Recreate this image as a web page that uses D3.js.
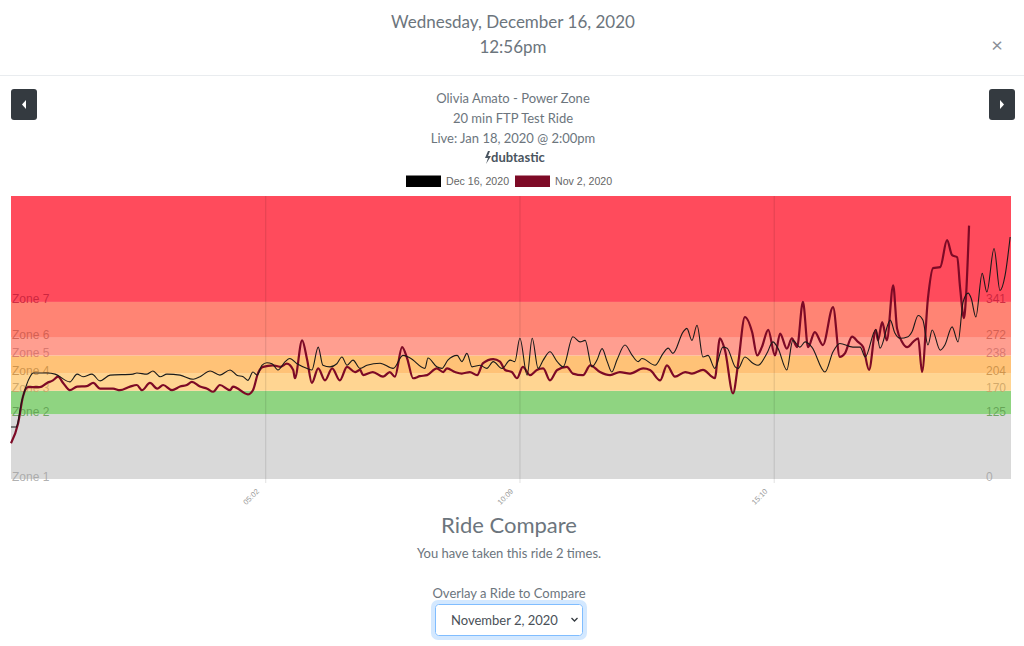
<!DOCTYPE html>
<html>
<head>
<meta charset="utf-8">
<script src="https://cdn.jsdelivr.net/npm/d3@7"></script>
<style>
html,body{margin:0;padding:0;background:#fff;overflow:hidden;}
svg{display:block;}
</style>
</head>
<body>
<svg id="page" width="1024" height="646"></svg>
<script>
// ---------- DATA ----------
const headerDate = "Wednesday, December 16, 2020";
const headerTime = "12:56pm";
const titleLines = ["Olivia Amato - Power Zone", "20 min FTP Test Ride", "Live: Jan 18, 2020 @ 2:00pm"];
const seriesNames = ["Dec 16, 2020", "Nov 2, 2020"];
const seriesColors = ["#000000", "#7d0a26"];

// zones: lower threshold (watts), label, fill colour, label colour
const zoneNames = ["Zone 1", "Zone 2", "Zone 3", "Zone 4", "Zone 5", "Zone 6", "Zone 7"];
const zoneThresholds = [0, 125, 170, 204, 238, 272, 341];
const zoneFills = ["#d9d9d9", "#8fd481", "#ffd592", "#ffc277", "#ff9e90", "#ff8474", "#ff4b5c"];
const zoneLabelColors = ["#a3a3a3", "#5e9c50", "#caa264", "#c58c45", "#d2726a", "#cc5a4d", "#c4203a"];
const yMax = 545;

// x is the sample index of the ride (0..236)
const xMax = 236;
const tickIndex = [60, 120, 180];
const tickLabels = ["05:02", "10:09", "15:10"];

// Dec 16, 2020 ride: sample index and watts
const decIdx = [0,1.2,2.6,4.5,5.2,8.5,10.4,13.9,15.6,17.0,19.1,21.0,23.4,28.8,29.7,32.1,33.5,35.2,36.8,39.9,43.0,44.6,47.0,49.3,51.7,53.3,54.8,55.9,57.1,58.1,59.2,60.4,61.6,63.0,64.7,65.8,67.5,69.9,71.0,72.5,73.6,75.3,76.9,78.1,79.3,80.7,82.4,84.0,87.1,90.2,92.5,94.2,97.7,98.4,100.5,101.7,103.1,105.3,106.4,107.6,108.8,110.7,112.3,113.8,115.9,117.8,118.9,120.1,121.8,123.0,124.4,125.6,127.2,128.9,130.3,132.6,134.3,135.5,137.1,138.3,139.5,140.7,141.8,143.0,144.9,146.6,148.0,148.9,152.0,153.9,155.1,156.2,158.6,159.5,160.7,161.9,163.3,164.5,166.1,168.0,169.0,170.9,171.6,173.2,175.1,176.3,178.4,179.8,181.0,183.1,184.5,186.2,187.4,189.0,192.1,194.0,195.6,198.7,200.4,201.6,204.1,205.1,207.5,208.6,209.8,211.7,212.6,214.1,215.2,216.4,217.4,219.3,220.4,222.1,223.5,224.7,225.9,226.6,227.7,229.2,230.3,232.0,233.4,234.6,235.8];
const decWatts = [100,100,152,197,204,204,202,187,202,197,202,189,200,202,204,202,208,197,202,200,192,197,208,200,210,200,197,190,206,200,219,224,222,210,226,232,222,213,210,254,219,216,222,235,219,229,213,219,223,213,238,233,213,233,216,213,229,238,226,242,216,219,213,226,213,229,226,271,200,271,213,229,245,226,216,274,264,267,216,229,251,226,206,229,258,238,226,232,219,242,252,242,283,290,267,296,235,238,213,254,252,216,213,235,223,219,242,264,252,210,267,254,264,254,206,245,261,254,254,235,288,252,306,281,271,274,283,315,306,258,287,248,258,293,264,341,358,348,312,396,360,444,363,392,466];

// Nov 2, 2020 ride: sample index and watts
const novIdx = [0,1.7,2.8,4.0,6.8,8.5,9.9,11.1,12.3,13.9,15.6,17.9,19.4,21.0,24.1,25.7,28.1,29.7,30.9,32.8,34.5,35.9,38.0,39.9,41.5,42.7,44.6,46.3,47.7,49.3,51.7,52.4,55.9,57.1,58.3,59.5,61.8,63.5,65.1,66.6,67.0,68.7,69.9,71.0,72.5,74.1,75.8,77.6,79.3,81.2,82.4,83.1,85.4,87.8,89.4,90.6,92.3,93.5,94.9,96.5,98.2,100.5,102.0,102.9,104.8,106.4,108.3,110.0,111.4,113.8,115.4,116.6,118.2,119.4,120.8,122.5,124.1,125.6,127.2,128.9,131.2,132.6,135.0,136.7,139.0,141.4,143.7,146.1,149.2,150.8,153.2,154.8,156.7,159.1,160.7,163.3,166.1,167.3,168.5,170.4,171.6,173.2,174.9,176.1,177.2,178.7,180.3,181.5,183.1,184.3,185.5,186.9,188.1,189.7,191.6,194.0,195.6,196.8,198.5,199.9,201.1,202.5,204.1,204.6,205.6,206.7,208.2,209.1,210.3,211.5,212.9,214.1,215.0,216.4,217.6,219.3,220.9,222.1,223.3,224.0,224.9,225.4,226.1];
const novWatts = [69,108,158,177,177,185,190,197,185,171,178,179,185,174,174,171,178,181,171,185,174,181,171,178,181,187,178,174,168,181,171,178,163,171,204,216,219,216,222,210,194,267,229,185,213,190,213,190,216,206,210,200,206,197,206,197,254,232,194,198,200,213,206,213,206,203,206,200,223,231,226,210,206,194,216,200,210,213,190,210,216,203,200,219,206,200,206,203,213,210,190,219,197,206,203,210,194,271,248,165,222,312,283,238,254,287,238,280,251,271,254,341,254,283,258,331,235,242,274,264,254,210,287,267,302,267,373,290,264,254,264,271,206,348,406,408,460,431,427,367,310,354,488];

// ---------- LAYOUT ----------
const svg = d3.select("#page");
const ui = "Lato, 'Open Sans', sans-serif";
const chartFont = "'Liberation Sans', Arial, sans-serif";
const textGrey = "#6c757d";

const plot = {left: 11, right: 1011, top: 196, bottom: 479};

// header
svg.append("text").attr("x", 513).attr("y", 28).attr("text-anchor", "middle")
  .attr("font-family", ui).attr("font-size", 17).attr("fill", textGrey).text(headerDate);
svg.append("text").attr("x", 513).attr("y", 53).attr("text-anchor", "middle")
  .attr("font-family", ui).attr("font-size", 17).attr("fill", textGrey).text(headerTime);
svg.append("text").attr("x", 997).attr("y", 52).attr("text-anchor", "middle")
  .attr("font-family", ui).attr("font-size", 20).attr("fill", "#8a9097").text("×");
svg.append("line").attr("x1", 0).attr("x2", 1024).attr("y1", 75.5).attr("y2", 75.5)
  .attr("stroke", "#e9ecef").attr("stroke-width", 1);

// nav buttons
function navButton(x, dir) {
  const g = svg.append("g").attr("transform", `translate(${x},89)`);
  g.append("rect").attr("width", 26).attr("height", 31).attr("rx", 3).attr("fill", "#343a40");
  g.append("path").attr("d", dir < 0 ? "M15,11 L11,15.5 L15,20 Z" : "M11,11 L15,15.5 L11,20 Z").attr("fill", "#fff");
}
navButton(11, -1);
navButton(989, 1);

// titles
titleLines.forEach((t, i) => {
  svg.append("text").attr("x", 513).attr("y", 103 + i * 20).attr("text-anchor", "middle")
    .attr("font-family", ui).attr("font-size", 13).attr("fill", textGrey).text(t);
});
// dubtastic logo
svg.append("path").attr("d", "M488,151 L485,158 L488,158 L486,164 L491,156 L488,156 L490,151 Z").attr("fill", "#4a5560");
svg.append("text").attr("x", 491).attr("y", 162).attr("font-family", ui).attr("font-weight", "bold")
  .attr("font-size", 13).attr("fill", "#4a5560").text("dubtastic");

// legend
const legendX = [406, 515];
seriesNames.forEach((n, i) => {
  svg.append("rect").attr("x", legendX[i]).attr("y", 175.5).attr("width", 35).attr("height", 11.5).attr("fill", seriesColors[i]);
  svg.append("text").attr("x", legendX[i] + 40).attr("y", 185).attr("font-family", chartFont)
    .attr("font-size", 10.6).attr("fill", "#666").text(n);
});

// ---------- CHART ----------
const x = d3.scaleLinear().domain([0, xMax]).range([plot.left, plot.right]);
const y = d3.scaleLinear().domain([0, yMax]).range([plot.bottom, plot.top]);

const zones = zoneNames.map((n, i) => ({
  name: n, lo: zoneThresholds[i], hi: i < zoneThresholds.length - 1 ? zoneThresholds[i + 1] : yMax,
  fill: zoneFills[i], lab: zoneLabelColors[i]
}));

const chart = svg.append("g");
chart.selectAll("rect.zone").data(zones).join("rect").attr("class", "zone")
  .attr("x", plot.left).attr("width", plot.right - plot.left)
  .attr("y", d => y(d.hi)).attr("height", d => y(d.lo) - y(d.hi)).attr("fill", d => d.fill);

// vertical grid + x axis
const xAxis = d3.axisBottom(x).tickValues(tickIndex).tickFormat((d, i) => tickLabels[i])
  .tickSize(-(plot.bottom - plot.top) - 4).tickPadding(0);
const axG = chart.append("g").attr("transform", `translate(0,${plot.bottom + 4})`).call(xAxis);
axG.select(".domain").remove();
axG.selectAll(".tick line").attr("stroke", "rgba(0,0,0,0.12)");
axG.selectAll(".tick text").attr("font-family", chartFont).attr("font-size", 7.5).attr("fill", "#999")
  .attr("text-anchor", "end").attr("transform", "translate(-8,7) rotate(-45)").attr("dy", "0.35em");

// zone labels
chart.selectAll("text.zl").data(zones).join("text").attr("class", "zl")
  .attr("x", plot.left + 1).attr("y", d => y(d.lo) + 1.5).attr("font-family", chartFont).attr("font-size", 12)
  .attr("fill", d => d.lab).attr("fill-opacity", 0.85).text(d => d.name);
chart.selectAll("text.zv").data(zones).join("text").attr("class", "zv")
  .attr("x", 986).attr("y", d => y(d.lo) + 1.5).attr("font-family", chartFont).attr("font-size", 12)
  .attr("fill", d => d.lab).attr("fill-opacity", 0.85).text(d => d.lo);

// lines
const line = d3.line().x(d => x(d[0])).y(d => y(d[1])).curve(d3.curveMonotoneX);
const nov = novIdx.map((v, i) => [v, novWatts[i]]);
const dec = decIdx.map((v, i) => [v, decWatts[i]]);
chart.append("path").datum(nov).attr("d", line).attr("fill", "none")
  .attr("stroke", seriesColors[1]).attr("stroke-width", 2.2).attr("stroke-linejoin", "round");
chart.append("path").datum(dec).attr("d", line).attr("fill", "none")
  .attr("stroke", "#1a1a1a").attr("stroke-width", 1.1).attr("stroke-linejoin", "round");

// ---------- BOTTOM ----------
svg.append("text").attr("x", 509).attr("y", 533).attr("text-anchor", "middle")
  .attr("font-family", ui).attr("font-size", 22).attr("fill", textGrey).text("Ride Compare");
svg.append("text").attr("x", 509).attr("y", 558).attr("text-anchor", "middle")
  .attr("font-family", ui).attr("font-size", 13).attr("fill", textGrey).text("You have taken this ride 2 times.");
svg.append("text").attr("x", 509).attr("y", 598).attr("text-anchor", "middle")
  .attr("font-family", ui).attr("font-size", 13).attr("fill", textGrey).text("Overlay a Ride to Compare");
svg.append("rect").attr("x", 433).attr("y", 602).attr("width", 152).attr("height", 36).attr("rx", 5)
  .attr("fill", "none").attr("stroke", "rgba(128,189,255,0.35)").attr("stroke-width", 4);
svg.append("rect").attr("x", 435.5).attr("y", 604.5).attr("width", 147).attr("height", 31).attr("rx", 3)
  .attr("fill", "#fff").attr("stroke", "#80bdff").attr("stroke-width", 1);
svg.append("text").attr("x", 451).attr("y", 624.5).attr("font-family", ui).attr("font-size", 13)
  .attr("fill", "#495057").text("November 2, 2020");
svg.append("path").attr("d", "M571.5,618 L574.5,621 L577.5,618").attr("fill", "none")
  .attr("stroke", "#343a40").attr("stroke-width", 1.3);
</script>
</body>
</html>
